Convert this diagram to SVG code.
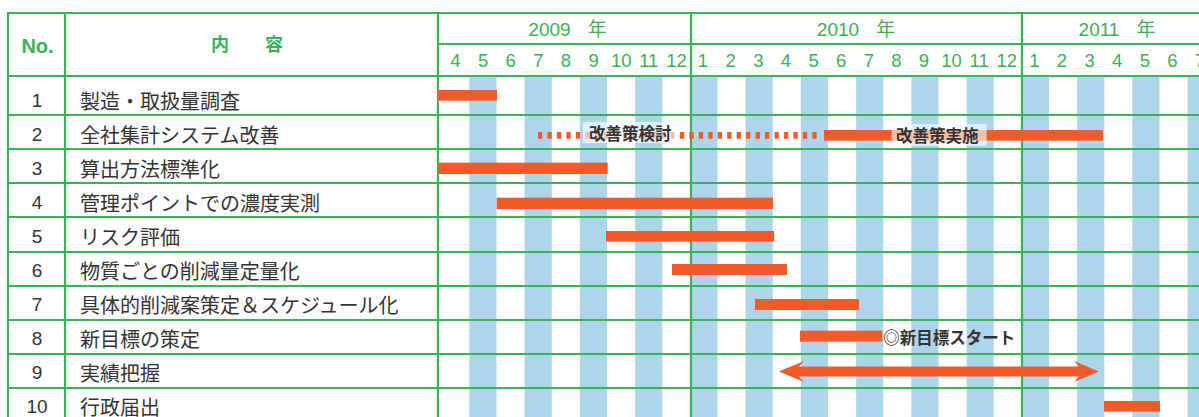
<svg xmlns="http://www.w3.org/2000/svg" width="1199" height="417" viewBox="0 0 1199 417">
<style>
.gl{stroke:#3AB256;stroke-width:2.2;fill:none}
.st{fill:#ADD6EA}
.bar{fill:#F15A29}
.hd{fill:#3AB256;font-family:"Liberation Sans","Noto Sans CJK JP",sans-serif;text-anchor:middle}
.yr{font-size:19px}
.mo{font-size:18.5px}
.hb{font-weight:bold}
.num{fill:#333;font-family:"Liberation Sans",sans-serif;font-size:19px;text-anchor:middle}
.lbl{fill:#333;font-family:"Noto Sans CJK JP",sans-serif;font-size:20px}
.tag{fill:#333;font-family:"Noto Sans CJK JP",sans-serif;font-size:16.5px;font-weight:bold}
.box{fill:#fff;fill-opacity:0.6}
</style>
<rect width="1199" height="417" fill="#fff"/>
<g id="stripes">
<rect class="st" x="469.3" y="77" width="27.2" height="340"/>
<rect class="st" x="524.6" y="77" width="27.2" height="340"/>
<rect class="st" x="579.8" y="77" width="27.2" height="340"/>
<rect class="st" x="635.1" y="77" width="27.2" height="340"/>
<rect class="st" x="690.3" y="77" width="27.2" height="340"/>
<rect class="st" x="745.6" y="77" width="27.2" height="340"/>
<rect class="st" x="800.8" y="77" width="27.2" height="340"/>
<rect class="st" x="856.1" y="77" width="27.2" height="340"/>
<rect class="st" x="911.3" y="77" width="27.2" height="340"/>
<rect class="st" x="966.6" y="77" width="27.2" height="340"/>
<rect class="st" x="1021.8" y="77" width="27.2" height="340"/>
<rect class="st" x="1077.1" y="77" width="27.2" height="340"/>
<rect class="st" x="1132.3" y="77" width="27.2" height="340"/>
<rect class="st" x="1187.6" y="77" width="27.2" height="340"/>
</g>
<g id="grid">
<line class="gl" x1="8" y1="13" x2="1199" y2="13"/>
<line class="gl" x1="438" y1="44" x2="1199" y2="44"/>
<line class="gl" x1="8" y1="76" x2="1199" y2="76"/>
<line class="gl" x1="8" y1="115" x2="1199" y2="115"/>
<line class="gl" x1="8" y1="149" x2="1199" y2="149"/>
<line class="gl" x1="8" y1="183" x2="1199" y2="183"/>
<line class="gl" x1="8" y1="217" x2="1199" y2="217"/>
<line class="gl" x1="8" y1="252" x2="1199" y2="252"/>
<line class="gl" x1="8" y1="286" x2="1199" y2="286"/>
<line class="gl" x1="8" y1="320" x2="1199" y2="320"/>
<line class="gl" x1="8" y1="354" x2="1199" y2="354"/>
<line class="gl" x1="8" y1="388" x2="1199" y2="388"/>
<line class="gl" x1="8" y1="12" x2="8" y2="417"/>
<line class="gl" x1="65" y1="12" x2="65" y2="417"/>
<line class="gl" x1="438" y1="12" x2="438" y2="417"/>
<line class="gl" x1="691" y1="12" x2="691" y2="417"/>
<line class="gl" x1="1022" y1="12" x2="1022" y2="417"/>
</g>
<g id="header">
<text class="hd hb" x="37.5" y="53.3" font-size="20">No.</text>
<text class="hd hb" x="247" y="50.5" font-size="18" style="font-family:'Noto Sans CJK JP',sans-serif">内　　容</text>
<text class="hd yr" x="567.5" y="36">2009<tspan dx="17">年</tspan></text>
<text class="hd yr" x="856" y="36">2010<tspan dx="17">年</tspan></text>
<text class="hd yr" x="1117" y="36">2011<tspan dx="17">年</tspan></text>
<g class="hd mo">
<text x="455.5" y="66.5">4</text>
<text x="483.1" y="66.5">5</text>
<text x="510.7" y="66.5">6</text>
<text x="538.4" y="66.5">7</text>
<text x="566" y="66.5">8</text>
<text x="593.6" y="66.5">9</text>
<text x="621.2" y="66.5">10</text>
<text x="648.8" y="66.5">11</text>
<text x="676.5" y="66.5">12</text>
<text x="703" y="66.5">1</text>
<text x="730.7" y="66.5">2</text>
<text x="758.3" y="66.5">3</text>
<text x="786" y="66.5">4</text>
<text x="813.6" y="66.5">5</text>
<text x="841.2" y="66.5">6</text>
<text x="868.8" y="66.5">7</text>
<text x="896.4" y="66.5">8</text>
<text x="924" y="66.5">9</text>
<text x="951.6" y="66.5">10</text>
<text x="979.2" y="66.5">11</text>
<text x="1006.8" y="66.5">12</text>
<text x="1034.4" y="66.5">1</text>
<text x="1062" y="66.5">2</text>
<text x="1089.6" y="66.5">3</text>
<text x="1117.2" y="66.5">4</text>
<text x="1144.8" y="66.5">5</text>
<text x="1172.4" y="66.5">6</text>
<text x="1200" y="66.5">7</text>
</g>
</g>
<g id="row1"><text class="num" x="37" y="106.5">1</text><text class="lbl" x="80" y="108.5">製造・取扱量調査</text></g>
<g id="row2"><text class="num" x="37" y="140.5">2</text><text class="lbl" x="80" y="142.5">全社集計システム改善</text></g>
<g id="row3"><text class="num" x="37" y="174.5">3</text><text class="lbl" x="80" y="176.5">算出方法標準化</text></g>
<g id="row4"><text class="num" x="37" y="208.5">4</text><text class="lbl" x="80" y="210.5">管理ポイントでの濃度実測</text></g>
<g id="row5"><text class="num" x="37" y="242.5">5</text><text class="lbl" x="80" y="244.5">リスク評価</text></g>
<g id="row6"><text class="num" x="37" y="276.5">6</text><text class="lbl" x="80" y="278.5">物質ごとの削減量定量化</text></g>
<g id="row7"><text class="num" x="37" y="310.5">7</text><text class="lbl" x="80" y="312.5">具体的削減案策定＆スケジュール化</text></g>
<g id="row8"><text class="num" x="37" y="344.5">8</text><text class="lbl" x="80" y="346.5">新目標の策定</text></g>
<g id="row9"><text class="num" x="37" y="378.5">9</text><text class="lbl" x="80" y="380.5">実績把握</text></g>
<g id="row10"><text class="num" x="37" y="412.5">10</text><text class="lbl" x="80" y="414.5">行政届出</text></g>
<g id="bars">
<rect class="bar" x="438" y="90" width="59" height="10.7"/>
<line x1="538" y1="135.3" x2="817" y2="135.3" stroke="#F15A29" stroke-width="6.7" stroke-dasharray="4.3 5.16"/>
<rect class="box" x="583" y="122" width="93" height="21"/>
<text class="tag" x="589" y="139.5">改善策検討</text>
<rect class="bar" x="824" y="130" width="279" height="10.7"/>
<rect class="box" x="891.7" y="124" width="95" height="21.7"/>
<text class="tag" x="896" y="141.5">改善策実施</text>
<rect class="bar" x="438.3" y="162.7" width="169.4" height="11.3"/>
<rect class="bar" x="496.7" y="197.7" width="276.3" height="11.3"/>
<rect class="bar" x="606" y="231" width="168" height="10.7"/>
<rect class="bar" x="672" y="264" width="115" height="11"/>
<rect class="bar" x="755" y="299" width="104" height="11"/>
<rect class="bar" x="800" y="330.7" width="82.3" height="11"/>
<text class="tag" x="883.3" y="343.5">◎新目標スタート</text>
<polygon class="bar" points="779,371.5 804,361 799,366.5 1079,366.5 1074,361 1099,371.5 1074,382 1079,376.5 799,376.5 804,382"/>
<rect class="bar" x="1104" y="401" width="56" height="10.7"/>
</g>
</svg>
